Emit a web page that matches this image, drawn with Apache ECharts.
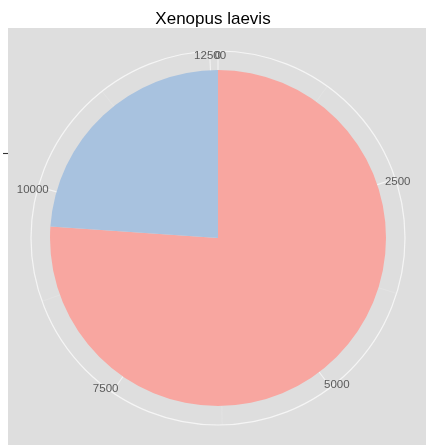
<!DOCTYPE html>
<html>
<head>
<meta charset="utf-8">
<style>
  html, body { margin: 0; padding: 0; background: #ffffff; }
  #chart { width: 426px; height: 445px; }
</style>
<script src="https://cdn.jsdelivr.net/npm/echarts@6/dist/echarts.min.js"></script>
</head>
<body>
<div id="chart"></div>
<script>
// Read counts per class
const categories = ['A', 'B'];
const counts = [9580, 3010];
const sliceColors = ['#F8A6A0', '#A8C2DF'];
const thetaTicks = [0, 2500, 5000, 7500, 10000, 12500];
const chartTitle = 'Xenopus laevis';

const total = counts.reduce((a, b) => a + b, 0);
const center = [218, 238];
const pieRadius = 168;
const outerRadius = 187;

const chart = echarts.init(document.getElementById('chart'), null, { renderer: 'canvas' });

// shared angle scale; one copy draws the grid, the other the labels on top
const angleBase = {
  type: 'value',
  min: 0,
  max: total,
  interval: 2500,
  startAngle: 90,
  clockwise: true
};

chart.setOption({
  animation: false,
  backgroundColor: '#ffffff',
  textStyle: { fontFamily: 'Liberation Sans, Arial, sans-serif' },
  title: {
    text: chartTitle,
    left: 'center',
    top: 6,
    textStyle: { fontSize: 17, fontWeight: 'normal', color: '#000000' }
  },
  graphic: [{
    type: 'rect',
    z: -10,
    silent: true,
    shape: { x: 8, y: 28, width: 418, height: 417 },
    style: { fill: '#DEDEDE' }
  }],
  polar: [
    { center: center, radius: outerRadius },
    { center: center, radius: outerRadius }
  ],
  angleAxis: [
    Object.assign({}, angleBase, {
      polarIndex: 0,
      axisLine: { show: true, lineStyle: { color: '#F5F5F5', width: 1.2 } },
      axisTick: { show: false },
      splitLine: { show: true, lineStyle: { color: '#F3F3F3', width: 1.1 } },
      minorTick: { show: false, splitNumber: 2 },
      minorSplitLine: { show: true, lineStyle: { color: '#E6E6E6', width: 0.5 } },
      axisLabel: { show: false },
      z: 1
    }),
    Object.assign({}, angleBase, {
      polarIndex: 1,
      axisLine: { show: false },
      axisTick: { show: false },
      splitLine: { show: false },
      axisLabel: {
        show: true,
        margin: -11,
        color: '#5A5A5A',
        fontSize: 11.5,
        formatter: function (v) { return thetaTicks.indexOf(v) >= 0 ? String(v) : ''; }
      },
      z: 8
    })
  ],
  radiusAxis: [
    { polarIndex: 0, type: 'value', min: 0, max: 1, show: false },
    { polarIndex: 1, type: 'value', min: 0, max: 1, show: false }
  ],
  grid: { left: 8, top: 143, width: 10, height: 21, show: false },
  xAxis: { type: 'value', show: false, gridIndex: 0 },
  yAxis: {
    type: 'category',
    data: [''],
    gridIndex: 0,
    axisLine: { show: false },
    axisTick: { show: true, alignWithLabel: true, length: 5, lineStyle: { color: '#333333', width: 1.1 } },
    axisLabel: { show: false }
  },
  series: [{
    type: 'pie',
    center: center,
    radius: [0, pieRadius],
    startAngle: 90,
    clockwise: true,
    label: { show: false },
    labelLine: { show: false },
    silent: true,
    z: 5,
    data: categories.map((c, i) => ({ name: c, value: counts[i], itemStyle: { color: sliceColors[i] } }))
  }]
});
</script>
</body>
</html>
